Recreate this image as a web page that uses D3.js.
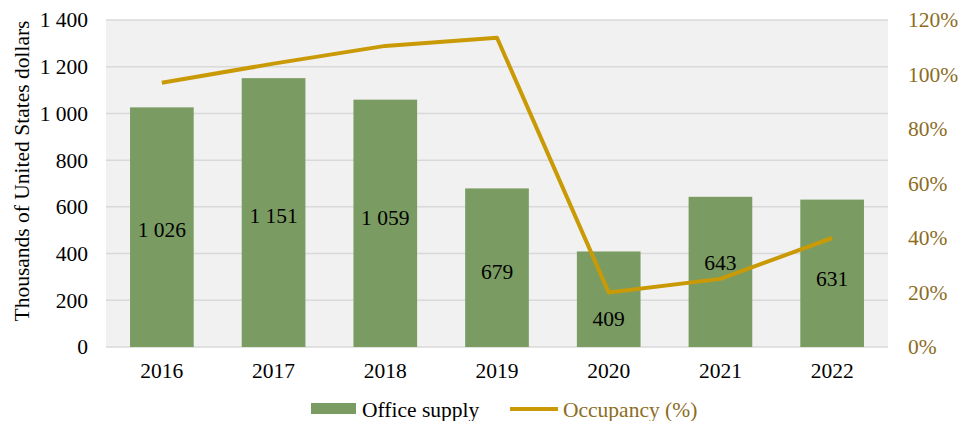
<!DOCTYPE html>
<html>
<head>
<meta charset="utf-8">
<script src="https://cdn.jsdelivr.net/npm/d3@7"></script>
<style>
  body { margin: 0; background: #fff; }
  text { font-family: "Liberation Serif", "Times New Roman", serif; }
</style>
</head>
<body>
<svg id="chart" width="960" height="421"></svg>
<script>
  var years = ["2016", "2017", "2018", "2019", "2020", "2021", "2022"];
  var officeSupply = [1026, 1151, 1059, 679, 409, 643, 631];
  var occupancy = [97, 104, 110.5, 113.5, 20, 25, 40];
  var leftTicks = [0, 200, 400, 600, 800, 1000, 1200, 1400];
  var rightTicks = [0, 20, 40, 60, 80, 100, 120];

  var width = 960,
      height = 421;

  var margin = {top: 20, right: 72, bottom: 74, left: 106};

  var barColor = "#7a9c62",
      lineColor = "#c99a06",
      rightColor = "#8c6d1f";

  var fontSize = "21.5px";

  var svg = d3.select("#chart");

  var x = d3.scaleBand()
      .domain(years)
      .range([margin.left, width - margin.right])
      .paddingInner(0.43)
      .paddingOuter(0.215);

  var y = d3.scaleLinear()
      .domain([0, 1400])
      .range([height - margin.bottom, margin.top]);

  var y2 = d3.scaleLinear()
      .domain([0, 120])
      .range([height - margin.bottom, margin.top]);

  var fmtThousands = function(d) {
    return d3.format(",")(d).replace(/,/g, " ");
  };

  // plot background
  svg.append("rect")
      .attr("x", margin.left)
      .attr("y", margin.top)
      .attr("width", width - margin.left - margin.right)
      .attr("height", height - margin.top - margin.bottom)
      .attr("fill", "#f1f1f1");

  // gridlines
  svg.append("g")
    .selectAll("line").data(leftTicks).enter().append("line")
      .attr("x1", margin.left)
      .attr("x2", width - margin.right)
      .attr("y1", d => y(d))
      .attr("y2", d => y(d))
      .attr("stroke", "#d9d9d9")
      .attr("stroke-width", 1.5);

  // left axis
  var leftAxis = d3.axisLeft(y)
      .tickValues(leftTicks)
      .tickSize(0)
      .tickPadding(18)
      .tickFormat(fmtThousands);

  svg.append("g")
      .attr("transform", "translate(" + margin.left + ",0)")
      .call(leftAxis)
      .call(g => g.select(".domain").remove())
      .selectAll("text")
      .style("font-size", fontSize)
      .attr("fill", "#000");

  // right axis
  var rightAxis = d3.axisRight(y2)
      .tickValues(rightTicks)
      .tickSize(0)
      .tickPadding(20)
      .tickFormat(d => d + "%");

  svg.append("g")
      .attr("transform", "translate(" + (width - margin.right) + ",0)")
      .call(rightAxis)
      .call(g => g.select(".domain").remove())
      .selectAll("text")
      .style("font-size", fontSize)
      .attr("fill", rightColor);

  // bottom axis
  var bottomAxis = d3.axisBottom(x)
      .tickSize(0)
      .tickPadding(16);

  svg.append("g")
      .attr("transform", "translate(0," + (height - margin.bottom) + ")")
      .call(bottomAxis)
      .call(g => g.select(".domain").remove())
      .selectAll("text")
      .style("font-size", fontSize)
      .attr("fill", "#000");

  // bars
  svg.append("g")
    .selectAll("rect").data(officeSupply).enter().append("rect")
      .attr("x", (d, i) => x(years[i]))
      .attr("y", d => y(d))
      .attr("width", x.bandwidth())
      .attr("height", d => y(0) - y(d))
      .attr("fill", barColor);

  // occupancy line
  var line = d3.line()
      .x((d, i) => x(years[i]) + x.bandwidth() / 2)
      .y(d => y2(d));

  svg.append("path")
      .datum(occupancy)
      .attr("d", line)
      .attr("fill", "none")
      .attr("stroke", lineColor)
      .attr("stroke-width", 4)
      .attr("stroke-linejoin", "round");

  // bar labels, centred; some nudged clear of the line as in the original
  var nudge = {"2016": 2, "2017": 3, "2018": -6, "2019": 4, "2020": 19, "2021": -9, "2022": 5};

  svg.append("g")
    .selectAll("text").data(officeSupply).enter().append("text")
      .attr("x", (d, i) => x(years[i]) + x.bandwidth() / 2)
      .attr("y", (d, i) => (y(d) + y(0)) / 2 + (nudge[years[i]] || 0))
      .attr("text-anchor", "middle")
      .attr("dy", "0.35em")
      .style("font-size", fontSize)
      .attr("fill", "#000")
      .text(d => fmtThousands(d));

  // y axis title
  svg.append("text")
      .attr("transform", "translate(21,171) rotate(-90)")
      .attr("text-anchor", "middle")
      .attr("dy", "0.35em")
      .style("font-size", fontSize)
      .attr("fill", "#000")
      .text("Thousands of United States dollars");

  // legend
  var legend = svg.append("g")
      .attr("transform", "translate(311,409)");

  legend.append("rect")
      .attr("x", 0)
      .attr("y", -6)
      .attr("width", 45)
      .attr("height", 11)
      .attr("fill", barColor);

  legend.append("text")
      .attr("x", 51)
      .attr("dy", "0.35em")
      .style("font-size", fontSize)
      .attr("fill", "#000")
      .text("Office supply");

  legend.append("line")
      .attr("x1", 199)
      .attr("x2", 247)
      .attr("stroke", lineColor)
      .attr("stroke-width", 4);

  legend.append("text")
      .attr("x", 252)
      .attr("dy", "0.35em")
      .style("font-size", fontSize)
      .attr("fill", rightColor)
      .text("Occupancy (%)");
</script>
</body>
</html>
